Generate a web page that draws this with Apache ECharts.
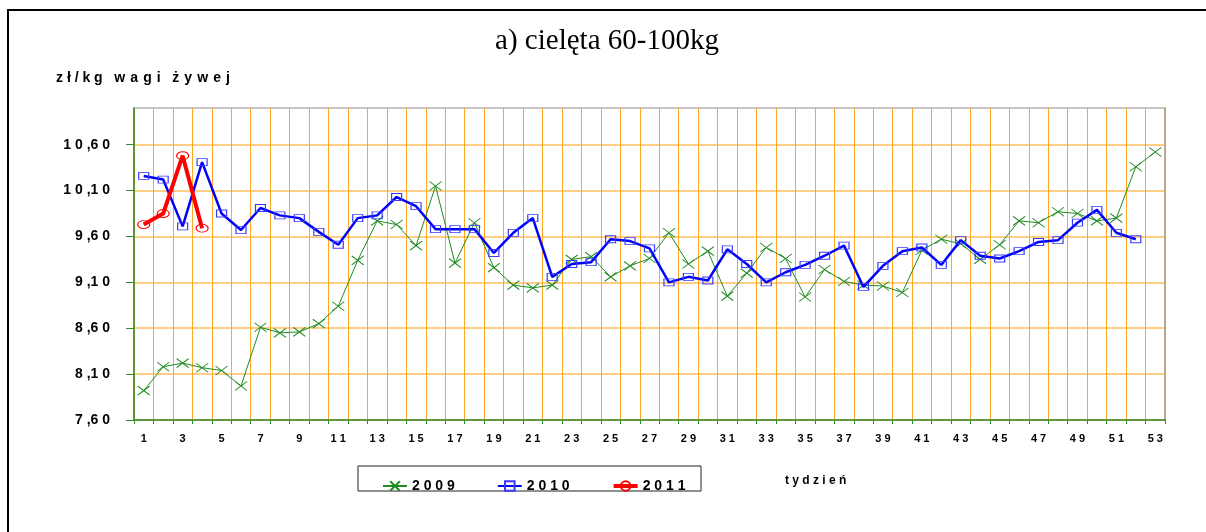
<!DOCTYPE html>
<html>
<head>
<meta charset="utf-8">
<script src="https://cdn.jsdelivr.net/npm/echarts@6/dist/echarts.min.js"></script>
<style>
  html, body { margin: 0; padding: 0; background: #fff; }
  #chart { width: 1206px; height: 532px; }
</style>
</head>
<body>
<div id="chart"></div>
<script>
// Tygodnie roku (oś X)
const weeks = Array.from({ length: 53 }, (_, i) => String(i + 1));

// Ceny cieląt 60-100 kg, zł/kg wagi żywej
const price2009 = [7.92, 8.18, 8.22, 8.17, 8.14, 7.97, 8.61, 8.55, 8.56, 8.65,
  8.84, 9.34, 9.77, 9.73, 9.50, 10.15, 9.31, 9.75, 9.26, 9.07,
  9.04, 9.07, 9.35, 9.38, 9.16, 9.28, 9.36, 9.64, 9.30, 9.44,
  8.95, 9.20, 9.48, 9.36, 8.94, 9.24, 9.11, 9.07, 9.06, 8.99,
  9.45, 9.57, 9.52, 9.35, 9.51, 9.77, 9.75, 9.87, 9.85, 9.77,
  9.80, 10.36, 10.52];
const price2010 = [10.26, 10.22, 9.71, 10.41, 9.85, 9.67, 9.91, 9.83, 9.80, 9.65,
  9.51, 9.80, 9.83, 10.03, 9.93, 9.68, 9.68, 9.68, 9.42, 9.64,
  9.80, 9.16, 9.30, 9.32, 9.57, 9.55, 9.47, 9.10, 9.16, 9.12,
  9.46, 9.30, 9.10, 9.21, 9.29, 9.39, 9.50, 9.05, 9.28, 9.44,
  9.48, 9.29, 9.56, 9.39, 9.36, 9.44, 9.54, 9.56, 9.75, 9.89,
  9.64, 9.57];
const price2011 = [9.73, 9.85, 10.48, 9.69];

const yTicks = [7.6, 8.1, 8.6, 9.1, 9.6, 10.1, 10.6];

const FONT = "'Liberation Sans', Arial, sans-serif";
const spaced = s => String(s).split('').join(' ');
const wideSpaced = s => String(s).split('').join(' \u200A');

const chart = echarts.init(document.getElementById('chart'), null, { renderer: 'canvas' });

const xSymbol = 'path://M0,0L10,10M10,0L0,10';

chart.setOption({
  animation: false,
  backgroundColor: '#fff',
  grid: {
    left: 134, top: 108, right: 41, bottom: 112,
    show: true, borderColor: '#b4b4b4', borderWidth: 1.5, backgroundColor: 'transparent'
  },
  graphic: [
    { type: 'rect', shape: { x: 8, y: 10, width: 1240, height: 560 },
      style: { fill: 'none', stroke: '#000', lineWidth: 2 }, silent: true },
    { type: 'text', x: 607, y: 41,
      style: { text: 'a) cielęta 60-100kg', font: "29px 'Liberation Serif', 'Times New Roman', serif",
        fill: '#000', textAlign: 'center', textVerticalAlign: 'middle' } },
    { type: 'text', x: 56, y: 78,
      style: { text: 'z ł / k g   ' + wideSpaced('wagi') + '   ' + wideSpaced('żywej'),
        font: "bold 14px " + FONT,
        fill: '#000', textAlign: 'left', textVerticalAlign: 'middle' } },
    { type: 'text', x: 785, y: 481,
      style: { text: 't y d z i e ń', font: "bold 12px " + FONT,
        fill: '#000', textAlign: 'left', textVerticalAlign: 'middle' } },
    { type: 'rect', shape: { x: 358, y: 466, width: 343, height: 25 },
      style: { fill: 'none', stroke: '#222', lineWidth: 1 }, silent: true }
  ],
  legend: {
    left: 377, top: 474, itemWidth: 24, itemHeight: 12, itemGap: 42,
    data: [
      { name: '2009' },
      { name: '2010' },
      { name: '2011', lineStyle: { width: 4 } }
    ],
    formatter: name => spaced(name),
    textStyle: { fontFamily: FONT, fontWeight: 'bold', fontSize: 14, color: '#000', width: 48 }
  },
  xAxis: {
    type: 'category',
    data: weeks,
    boundaryGap: true,
    axisLine: { lineStyle: { color: '#2e8b2e', width: 1.5 } },
    axisTick: { show: true, interval: 0, length: 4, lineStyle: { color: '#2e8b2e' } },
    axisLabel: { interval: 1, margin: 13, fontFamily: FONT, fontWeight: 'bold', fontSize: 11,
      color: '#000', formatter: v => spaced(v) },
    splitLine: { show: true, interval: 0, lineStyle: { color: '#ffa726', width: 1 } }
  },
  yAxis: [{
    type: 'value',
    min: 7.6, max: 11.0, interval: 0.5,
    axisLine: { show: true, lineStyle: { color: '#2e8b2e', width: 1.5 } },
    axisTick: { show: true, length: 8, lineStyle: { color: '#2e8b2e' }, customValues: yTicks },
    axisLabel: {
      margin: 24, fontFamily: FONT, fontWeight: 'bold', fontSize: 14, color: '#000',
      customValues: yTicks,
      formatter: v => v.toFixed(2).replace('.', ',').replace(/(\d)(?=[\d,])/g, '$1 ')
    },
    splitLine: { show: true, lineStyle: {
      color: ['#ffbe5c', '#ffbe5c', '#ffbe5c', '#ffbe5c', '#ffbe5c', '#ffbe5c', '#ffbe5c', '#b4b4b4'],
      width: 1.5 } }
  }, {
    type: 'value', position: 'right',
    min: 7.6, max: 11.0,
    axisLine: { show: true, lineStyle: { color: '#b8a07c', width: 1.5 } },
    axisTick: { show: false }, axisLabel: { show: false }, splitLine: { show: false }
  }],
  series: [
    {
      name: '2009', type: 'line', data: price2009, yAxisIndex: 0,
      symbol: xSymbol, symbolSize: [12, 9],
      lineStyle: { color: '#228b22', width: 1 },
      itemStyle: { color: 'rgba(0,0,0,0)', borderColor: '#228b22', borderWidth: 1 },
      z: 3
    },
    {
      name: '2010', type: 'line', data: price2010, yAxisIndex: 0,
      symbol: 'rect', symbolSize: [10, 7],
      lineStyle: { color: '#0000ff', width: 2.5 },
      itemStyle: { color: 'rgba(255,255,255,0)', borderColor: '#3a3aff', borderWidth: 1 },
      z: 4
    },
    {
      name: '2011', type: 'line', data: price2011, yAxisIndex: 0,
      symbol: 'circle', symbolSize: [12, 8],
      lineStyle: { color: '#ff0000', width: 4 },
      itemStyle: { color: 'rgba(255,255,255,0)', borderColor: '#ff0000', borderWidth: 1 },
      z: 5
    }
  ]
});
</script>
</body>
</html>
